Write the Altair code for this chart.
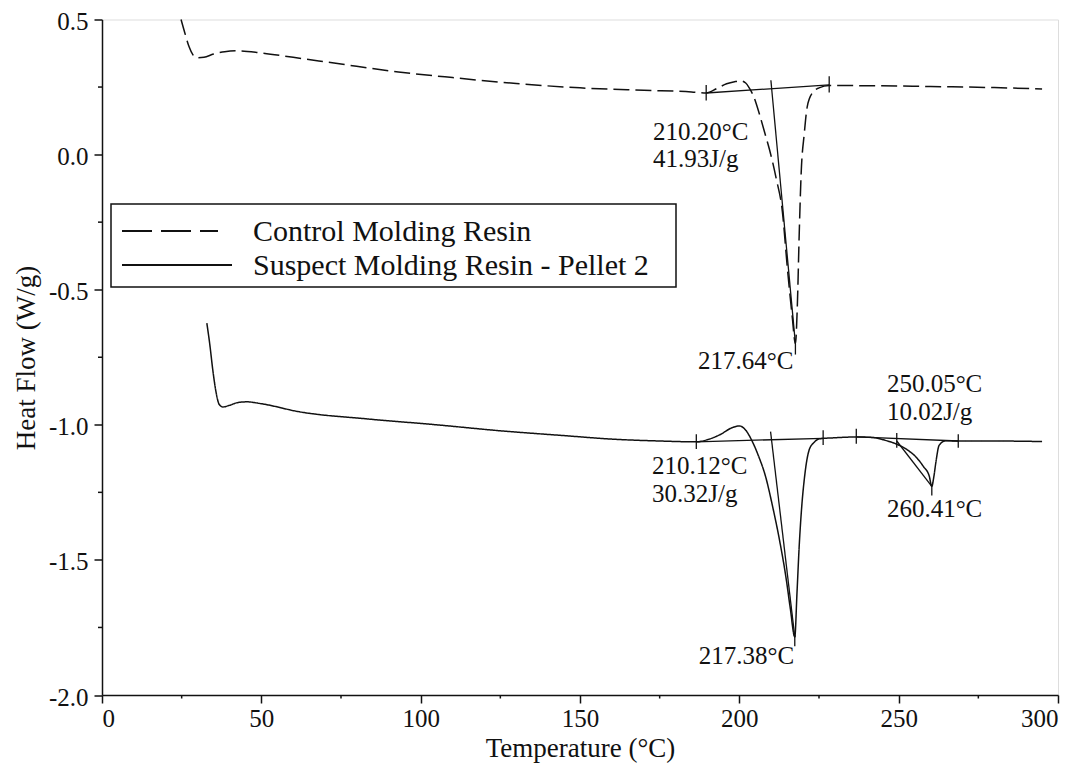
import altair as alt
import pandas as pd

FONT = "Liberation Serif"

# ---- data ----
control_T = [24.8, 26.0, 27.3, 28.5, 29.8, 32.0, 35.0, 38.5, 42.5, 50.0, 60.0, 75.0,
             93.0, 110.0, 130.0, 150.0, 170.0, 185.0, 189.6, 193.0, 196.0, 198.5,
             200.3, 202.0, 203.2, 204.5, 206.3, 208.0, 209.5, 211.6, 213.5, 215.0,
             216.6, 217.6, 218.2, 218.8, 219.4, 220.4, 221.3, 222.9, 225.0, 228.2,
             240.0, 260.0, 280.0, 295.0]
control_v = [0.50, 0.45, 0.40, 0.37, 0.358, 0.360, 0.372, 0.381, 0.384, 0.376, 0.360,
             0.335, 0.306, 0.285, 0.263, 0.247, 0.238, 0.232, 0.228, 0.245, 0.262,
             0.270, 0.273, 0.265, 0.245, 0.215, 0.150, 0.080, 0.017, -0.090, -0.210,
             -0.410, -0.600, -0.700, -0.560, -0.290, -0.070, 0.080, 0.177, 0.228,
             0.247, 0.256, 0.255, 0.252, 0.248, 0.243]

suspect_T = [32.9, 33.8, 34.8, 35.8, 36.8, 37.9, 40.0, 42.5, 45.4, 50.0, 62.0, 83.0,
             105.0, 124.8, 145.0, 160.0, 175.0, 186.5, 190.0, 194.0, 197.5, 200.0,
             202.0, 204.0, 206.0, 208.2, 210.4, 212.5, 214.7, 216.0, 217.4, 218.1,
             218.8, 219.6, 220.4, 221.2, 222.0, 223.5, 225.0, 230.0, 236.7, 242.0,
             245.0, 250.2, 253.0, 255.5, 257.8, 259.6, 260.4, 261.0, 261.7, 262.7,
             264.8, 268.7, 280.0, 295.0]
suspect_v = [-0.624, -0.700, -0.800, -0.880, -0.925, -0.934, -0.928, -0.918, -0.915,
             -0.922, -0.952, -0.978, -1.000, -1.022, -1.040, -1.053, -1.060, -1.063,
             -1.055, -1.036, -1.012, -1.004, -1.020, -1.060, -1.115, -1.190, -1.300,
             -1.420, -1.570, -1.680, -1.785, -1.620, -1.446, -1.300, -1.200, -1.130,
             -1.090, -1.065, -1.052, -1.048, -1.045, -1.047, -1.055, -1.076, -1.095,
             -1.120, -1.155, -1.190, -1.228, -1.195, -1.137, -1.076, -1.059, -1.060,
             -1.060, -1.062]

series_names = ["Control Molding Resin", "Suspect Molding Resin - Pellet 2"]

# analysis construction lines (baselines, onset tangents, limit marks)
seg_x1 = [189.6, 209.9, 189.6, 228.2, 217.6,
          186.5, 209.8, 236.7, 249.4, 186.5, 226.3, 236.7, 249.4, 268.7, 217.4, 260.4]
seg_y1 = [0.228, 0.275, 0.258, 0.290, -0.700,
          -1.063, -1.025, -1.045, -1.060, -1.035, -1.020, -1.015, -1.030, -1.035, -1.780, -1.222]
seg_x2 = [228.2, 217.6, 189.6, 228.2, 217.6,
          226.3, 217.4, 268.7, 260.4, 186.5, 226.3, 236.7, 249.4, 268.7, 217.4, 260.4]
seg_y2 = [0.258, -0.700, 0.200, 0.230, -0.740,
          -1.050, -1.785, -1.060, -1.228, -1.090, -1.075, -1.070, -1.085, -1.085, -1.820, -1.262]

ann_text = ["210.20°C", "41.93J/g", "217.64°C", "250.05°C", "10.02J/g",
            "210.12°C", "30.32J/g", "217.38°C", "260.41°C"]
ann_x = [172.9, 172.9, 187.0, 246.3, 246.3, 172.6, 172.6, 187.3, 246.3]
ann_y = [0.085, -0.018, -0.764, -0.849, -0.952, -1.151, -1.255, -1.856, -1.310]

x_major = [0, 50, 100, 150, 200, 250, 300]
x_minor = [25, 75, 125, 175, 225, 275]
y_major = [0.5, 0.0, -0.5, -1.0, -1.5, -2.0]
y_minor = [0.25, -0.25, -0.75, -1.25, -1.75]

# ---- tables ----
curves = pd.concat([
    pd.DataFrame({"T": control_T, "v": control_v, "series": series_names[0], "o": range(len(control_T))}),
    pd.DataFrame({"T": suspect_T, "v": suspect_v, "series": series_names[1], "o": range(len(suspect_T))}),
])
segs = pd.DataFrame({"x1": seg_x1, "y1": seg_y1, "x2": seg_x2, "y2": seg_y2})
anns = pd.DataFrame({"t": ann_text, "x": ann_x, "y": ann_y})
xmin_df = pd.DataFrame({"x": x_minor})
ymin_df = pd.DataFrame({"y": y_minor})
one = pd.DataFrame({"k": [0]})

xscale = alt.Scale(domain=[0, 300], nice=False, zero=False)
yscale = alt.Scale(domain=[-2.0, 0.5], nice=False, zero=False)

common_axis = dict(grid=False, domainColor="#111", domainWidth=1.5, tickColor="#111",
                   tickWidth=1.5, labelFont=FONT, labelFontSize=25, labelColor="#111",
                   titleFont=FONT, titleFontSize=27, titleColor="#111",
                   titleFontWeight="normal")

x_axis = alt.Axis(values=x_major, format="d", title="Temperature (°C)",
                  tickSize=8, labelPadding=3, titleX=478, titleY=53,
                  titleBaseline="middle", titleAlign="center", **common_axis)
y_axis = alt.Axis(values=y_major, title="Heat Flow (W/g)",
                  labelExpr="replace(format(datum.value, '.1f'), '\u2212', '-')",
                  tickSize=8, labelPadding=6, labelOffset=2, titleX=-76, titleY=338,
                  titleAngle=-90, titleBaseline="middle", titleAlign="center",
                  **common_axis)

lines = alt.Chart(curves).mark_line(color="#111", strokeWidth=1.5, interpolate="monotone").encode(
    x=alt.X("T:Q", scale=xscale, axis=x_axis),
    y=alt.Y("v:Q", scale=yscale, axis=y_axis),
    order="o:Q",
    strokeDash=alt.StrokeDash(
        "series:N",
        scale=alt.Scale(domain=series_names, range=[[16, 6], [1, 0]]),
        legend=None,
    ),
)

rules = alt.Chart(segs).mark_rule(color="#111", strokeWidth=1.3).encode(
    x="x1:Q", y="y1:Q", x2="x2:Q", y2="y2:Q"
)

texts = alt.Chart(anns).mark_text(align="left", baseline="middle", font=FONT,
                                  fontSize=25, color="#111").encode(
    x="x:Q", y="y:Q", text="t:N"
)

xminor = alt.Chart(xmin_df).mark_rule(color="#111", strokeWidth=1.5).encode(
    x="x:Q", y=alt.value(675.5), y2=alt.value(679)
)
yminor = alt.Chart(ymin_df).mark_rule(color="#111", strokeWidth=1.5).encode(
    y="y:Q", x=alt.value(0), x2=alt.value(-4)
)

# ---- hand-drawn legend box (as in the original figure) ----
leg_box = alt.Chart(one).mark_rect(fill="white", stroke="#111", strokeWidth=1.5).encode(
    x=alt.value(9), x2=alt.value(574), y=alt.value(184.5), y2=alt.value(267.5)
)
leg_dash = alt.Chart(one).mark_rule(color="#111", strokeWidth=1.8, strokeDash=[30, 9]).encode(
    x=alt.value(20), x2=alt.value(116), y=alt.value(211.5)
)
leg_solid = alt.Chart(one).mark_rule(color="#111", strokeWidth=1.8).encode(
    x=alt.value(20), x2=alt.value(130), y=alt.value(245.5)
)
leg_t1 = alt.Chart(pd.DataFrame({"t": [series_names[0]]})).mark_text(
    align="left", baseline="middle", font=FONT, fontSize=30, color="#111"
).encode(x=alt.value(151), y=alt.value(212), text="t:N")
leg_t2 = alt.Chart(pd.DataFrame({"t": [series_names[1]]})).mark_text(
    align="left", baseline="middle", font=FONT, fontSize=30, color="#111"
).encode(x=alt.value(151), y=alt.value(246), text="t:N")

chart = alt.layer(lines, rules, texts, xminor, yminor,
                  leg_box, leg_dash, leg_solid, leg_t1, leg_t2).properties(
    width=956, height=675.5,
    padding={"left": 94, "top": 11.5, "right": 20, "bottom": 70},
    autosize="none",
).configure_view(stroke="#111", strokeWidth=1.5).configure(background="white")

chart.save("out.html", embed_options={"renderer": "svg", "actions": False})
